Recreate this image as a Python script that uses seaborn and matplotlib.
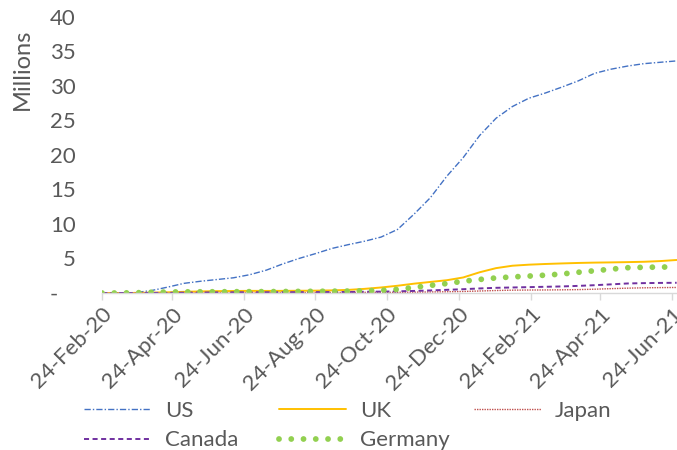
import matplotlib
matplotlib.use("Agg")
import matplotlib.pyplot as plt
import numpy as np
import pandas as pd
import seaborn as sns

# Cumulative confirmed cases (millions), sampled every 14 days from 24-Feb-2020
dates = pd.date_range("2020-02-24", periods=36, freq="14D")

us = [0.0, 0.0, 0.05, 0.35, 0.85, 1.4, 1.7, 1.95, 2.2, 2.65, 3.3, 4.2,
      5.0, 5.7, 6.45, 7.0, 7.5, 8.1, 9.2, 11.4, 13.8, 16.9, 19.6, 22.8,
      25.3, 27.0, 28.2, 28.95, 29.8, 30.7, 31.8, 32.4, 32.85, 33.2, 33.4, 33.6]
uk = [0.0, 0.0, 0.01, 0.05, 0.1, 0.17, 0.23, 0.27, 0.29, 0.31, 0.3, 0.31,
      0.32, 0.34, 0.38, 0.45, 0.6, 0.8, 1.05, 1.35, 1.6, 1.85, 2.25, 3.0,
      3.6, 3.95, 4.1, 4.2, 4.28, 4.35, 4.4, 4.43, 4.47, 4.52, 4.62, 4.78]
japan = [0.0, 0.0, 0.0, 0.0, 0.01, 0.01, 0.02, 0.02, 0.02, 0.02, 0.02, 0.03,
         0.05, 0.06, 0.07, 0.08, 0.09, 0.095, 0.1, 0.12, 0.15, 0.18, 0.22, 0.29,
         0.36, 0.41, 0.43, 0.44, 0.46, 0.49, 0.55, 0.63, 0.7, 0.75, 0.78, 0.8]
canada = [0.0, 0.0, 0.0, 0.01, 0.03, 0.05, 0.07, 0.09, 0.1, 0.105, 0.11, 0.115,
          0.12, 0.13, 0.14, 0.15, 0.18, 0.2, 0.24, 0.3, 0.37, 0.46, 0.55, 0.66,
          0.75, 0.8, 0.85, 0.9, 0.95, 1.03, 1.13, 1.25, 1.38, 1.43, 1.46, 1.48]
germany = [0.0, 0.0, 0.03, 0.1, 0.14, 0.16, 0.175, 0.18, 0.19, 0.195, 0.2, 0.21,
           0.23, 0.24, 0.26, 0.28, 0.31, 0.38, 0.53, 0.8, 1.1, 1.37, 1.7, 1.96,
           2.18, 2.33, 2.45, 2.58, 2.75, 3.0, 3.22, 3.45, 3.66, 3.72, 3.75, 3.78]

series_names = ["US", "UK", "Japan", "Canada", "Germany"]
tick_dates = ["2020-02-24", "2020-04-24", "2020-06-24", "2020-08-24", "2020-10-24",
              "2020-12-24", "2021-02-24", "2021-04-24", "2021-06-24"]
y_ticks = [0, 5, 10, 15, 20, 25, 30, 35, 40]
y_labels = ["-   ", "5", "10", "15", "20", "25", "30", "35", "40"]

sns.set_theme(style="white")
plt.rcParams["font.family"] = ["Lato", "DejaVu Sans"]
text_color = "#595959"
axis_color = "#D9D9D9"
fs = 16

styles = {
    "US": dict(color="#4472C4", linewidth=1.0, linestyle=(0, (4.5, 1.5, 1.0, 1.5))),
    "UK": dict(color="#FFC000", linewidth=1.4, linestyle="-"),
    "Japan": dict(color="#C0504D", linewidth=1.0, linestyle=(0, (1.0, 0.8))),
    "Canada": dict(color="#7030A0", linewidth=1.4, linestyle=(0, (2.6, 1.8))),
    "Germany": dict(color="#92D050", linewidth=4.2, linestyle=(0, (0.001, 2.1)),
                    dash_capstyle="round"),
}
values = {"US": us, "UK": uk, "Japan": japan, "Canada": canada, "Germany": germany}

fig = plt.figure(figsize=(6.77, 4.5), dpi=100)
ax = fig.add_axes([102 / 677, (450 - 293) / 450, 575 / 677, (293 - 16.7) / 450])

handles = {}
for name in series_names:
    df = pd.DataFrame({"date": dates, "value": values[name]})
    sns.lineplot(data=df, x="date", y="value", ax=ax, legend=False, **styles[name])
    handles[name] = ax.get_lines()[-1]

start = pd.Timestamp("2020-02-24")
ax.set_xlim(start, start + pd.Timedelta(days=490.3))
ax.set_ylim(0, 40)

ticks = pd.to_datetime(tick_dates)
ax.set_xticks(ticks)
ax.set_xticklabels([t.strftime("%d-%b-%y") for t in ticks], rotation=45,
                   ha="right", rotation_mode="anchor", fontsize=fs, color=text_color)
ax.set_yticks(y_ticks)
ax.set_yticklabels(y_labels, fontsize=fs, color=text_color)
ax.tick_params(axis="y", length=0, pad=19)
ax.tick_params(axis="x", length=5, width=1, color=axis_color, pad=3, direction="out")
ax.xaxis.set_ticks_position("bottom")
ax.set_xlabel("")
ax.set_ylabel("")

for side in ["top", "right", "left"]:
    ax.spines[side].set_visible(False)
ax.spines["bottom"].set_color(axis_color)
ax.spines["bottom"].set_linewidth(1.0)

fig.text(22 / 677, 1 - 69 / 450, "Millions", rotation=90, ha="center", va="center",
         fontsize=17, color=text_color)

# legend laid out in three fixed-width columns below the axis labels
columns = [["US", "Canada"], ["UK", "Germany"], ["Japan"]]
col_x = [84 / 677, 279 / 677, 474 / 677]
for names, x0 in zip(columns, col_x):
    leg = fig.legend([handles[n] for n in names], names, loc="upper left",
                     bbox_to_anchor=(x0, 1 - 401 / 450), frameon=False, fontsize=fs,
                     handlelength=3.0, handletextpad=0.63, labelspacing=0.42,
                     borderpad=0.0, borderaxespad=0.0)
    for t in leg.get_texts():
        t.set_color(text_color)

fig.savefig("out.png", dpi=100)
